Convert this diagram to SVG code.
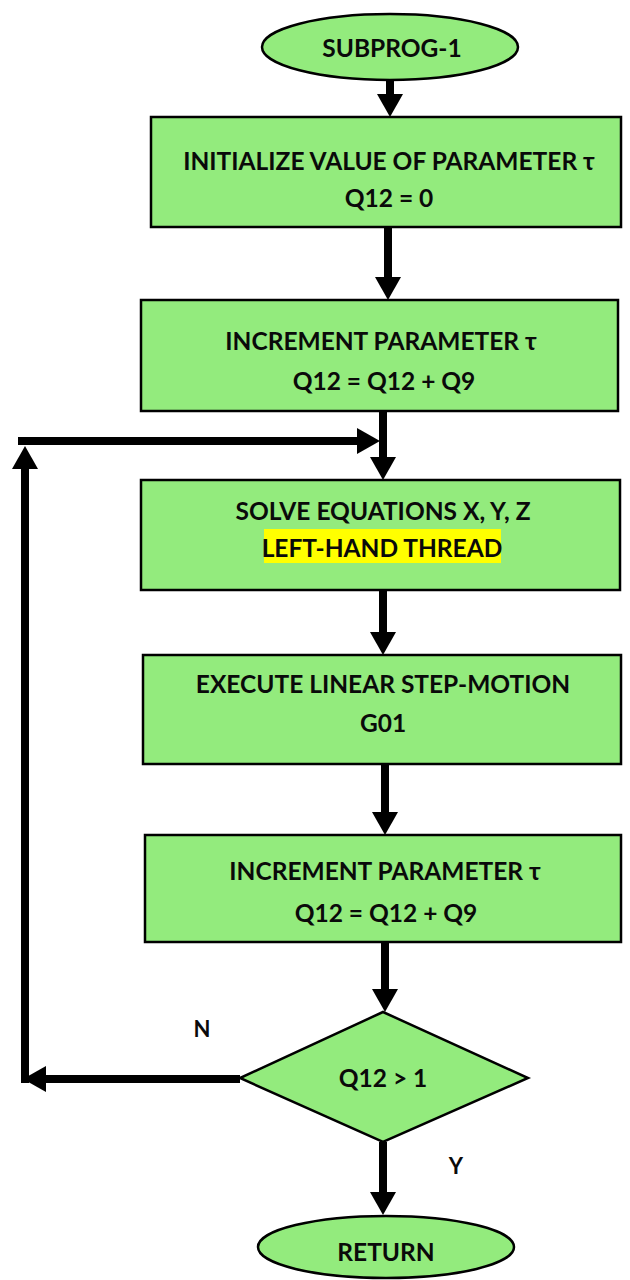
<svg xmlns="http://www.w3.org/2000/svg" width="630" height="1280" viewBox="0 0 630 1280">
<style>
.n{fill:#93EB7D;stroke:#000;stroke-width:2.5}
.t{font-family:Lato,"Liberation Sans",sans-serif;font-weight:bold;font-size:24.5px;fill:#0a0a0a;text-anchor:middle;dominant-baseline:central}
.c{stroke:#000;stroke-width:8;fill:none}
</style>
<defs>
<marker id="ah" markerUnits="userSpaceOnUse" markerWidth="24" markerHeight="26" viewBox="0 0 24 26" refX="0" refY="13" orient="auto" overflow="visible">
<path d="M0,0 L23,13 L0,26 Z" fill="#000"/>
</marker>
</defs>
<g id="start"><ellipse class="n" cx="390" cy="47" rx="128" ry="33"/><text class="t" x="392" y="47">SUBPROG-1</text></g>
<g id="init"><rect class="n" x="151" y="117" width="470" height="110"/><text class="t" x="389" y="160">INITIALIZE VALUE OF PARAMETER τ</text><text class="t" x="389" y="197">Q12 = 0</text></g>
<g id="inc1"><rect class="n" x="141" y="300" width="477" height="111"/><text class="t" x="381" y="340">INCREMENT PARAMETER τ</text><text class="t" x="384" y="380">Q12 = Q12 + Q9</text></g>
<g id="solve"><rect class="n" x="141" y="480" width="479" height="110"/><text class="t" x="383" y="510">SOLVE EQUATIONS X, Y, Z</text><rect x="264" y="529" width="237" height="34" fill="#FFFF00"/><text class="t" x="382" y="547">LEFT-HAND THREAD</text></g>
<g id="exec"><rect class="n" x="143" y="655" width="478" height="109"/><text class="t" x="383" y="683">EXECUTE LINEAR STEP-MOTION</text><text class="t" x="383" y="722">G01</text></g>
<g id="inc2"><rect class="n" x="145" y="835" width="476" height="107"/><text class="t" x="385" y="870">INCREMENT PARAMETER τ</text><text class="t" x="386" y="912">Q12 = Q12 + Q9</text></g>
<g id="dec"><polygon class="n" points="383,1012 528,1078 383,1142 240,1078"/><text class="t" x="383" y="1077">Q12 &gt; 1</text></g>
<g id="ret"><ellipse class="n" cx="386" cy="1247" rx="128" ry="31"/><text class="t" x="386" y="1251">RETURN</text></g>
<g id="connectors">
<line class="c" x1="390" y1="80" x2="390" y2="94" marker-end="url(#ah)"/>
<line class="c" x1="388" y1="227" x2="388" y2="277" marker-end="url(#ah)"/>
<line class="c" x1="383" y1="411" x2="383" y2="457" marker-end="url(#ah)"/>
<line class="c" x1="18" y1="441" x2="357" y2="441" marker-end="url(#ah)"/>
<line class="c" x1="383" y1="590" x2="383" y2="632" marker-end="url(#ah)"/>
<line class="c" x1="385" y1="764" x2="385" y2="812" marker-end="url(#ah)"/>
<line class="c" x1="385" y1="942" x2="385" y2="989" marker-end="url(#ah)"/>
<line class="c" x1="240" y1="1079" x2="46" y2="1079" marker-end="url(#ah)"/>
<line class="c" x1="25" y1="1083" x2="25" y2="469" marker-end="url(#ah)"/>
<line class="c" x1="383" y1="1142" x2="383" y2="1192" marker-end="url(#ah)"/>
<text class="t" x="202" y="1028" style="font-size:22px">N</text>
<text class="t" x="456" y="1165" style="font-size:22px">Y</text>
</g>
</svg>
